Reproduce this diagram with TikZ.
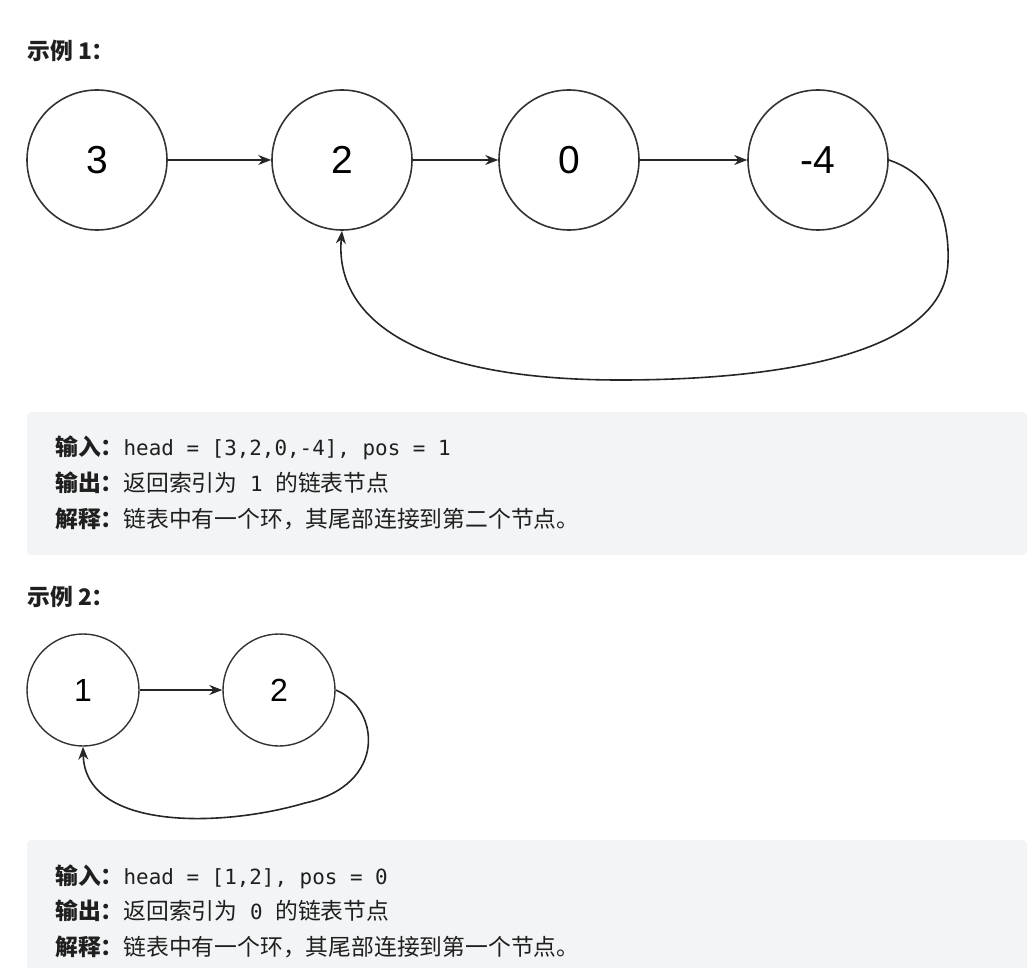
\documentclass[tikz,border=0pt]{standalone}
\usepackage{fontspec}
\usepackage{xcolor}
\setmainfont{Noto Sans CJK SC}
\newfontfamily\labelfont{Liberation Sans}
\newfontfamily\codefont{DejaVu Sans Mono}
\usetikzlibrary{positioning,calc,arrows.meta}
\definecolor{codebg}{HTML}{F3F4F5}
\definecolor{inktext}{HTML}{1F1F1F}
\newcommand{\code}[1]{{\codefont\fontsize{20.9}{24}\selectfont #1}}

\begin{document}
\begin{tikzpicture}[x=1pt,y=-1pt,
			big node/.style={draw=black!80, circle, line width=1.6pt, minimum size=140pt, inner sep=0pt,
				font=\labelfont\fontsize{39}{39}\selectfont},
			small node/.style={draw=black!80, circle, line width=1.4pt, minimum size=112pt, inner sep=0pt,
				font=\labelfont\fontsize{32}{32}\selectfont},
			link/.style={-{Stealth[length=13pt,width=10pt]}, line width=1.6pt, draw=black!85},
			code box/.style={fill=codebg, rounded corners=4pt},
			text line/.style={anchor=base west, inner sep=0pt, text=inktext, font=\fontsize{22.8}{26}\selectfont}]

			\useasboundingbox (0,0) rectangle (1036,968);

			% example 1
			\node[text line] (t1) at (27,60) {\bfseries 示例 1：};

			\node[big node] (1) at (97,160)  {3};
			\node[big node] (2) at (342,160) {2};
			\node[big node] (3) at (569,160) {0};
			\node[big node] (4) at (818,160) {-4};

			\draw[link] (1) -- (2);
			\draw[link] (2) -- (3);
			\draw[link] (3) -- (4);

			\coordinate (c1) at (948,262);
			\coordinate (c2) at (620,380);
			\draw[link] (4.east) .. controls (925,172) and (950,205) .. (c1)
				.. controls (945,360) and (760,380) .. (c2)
				.. controls (400,380) and (335,310) .. (2.south);

			\fill[code box] (27,412) rectangle (1027,555);
			\node[text line] (l1) at (55,455) {\bfseries 输入：\mdseries\code{head = [3,2,0,-4], pos = 1}};
			\node[text line] (l2) at (55,491) {\bfseries 输出：\mdseries 返回索引为\code{\ 1\ }的链表节点};
			\node[text line] (l3) at (55,527) {\bfseries 解释：\mdseries 链表中有一个环，其尾部连接到第二个节点。};

			% example 2
			\node[text line] (t2) at (27,605) {\bfseries 示例 2：};

			\node[small node] (5) at (83,690)  {1};
			\node[small node] (6) at (279,690) {2};

			\draw[link] (5) -- (6);

			\coordinate (c3) at (305,803);
			\draw[link] (6.east) .. controls (380,708) and (388,785) .. (c3)
				.. controls (220,828) and (85,830) .. (5.south);

			\fill[code box] (27,840) rectangle (1027,985);
			\node[text line] (l4) at (55,884) {\bfseries 输入：\mdseries\code{head = [1,2], pos = 0}};
			\node[text line] (l5) at (55,919) {\bfseries 输出：\mdseries 返回索引为\code{\ 0\ }的链表节点};
			\node[text line] (l6) at (55,955) {\bfseries 解释：\mdseries 链表中有一个环，其尾部连接到第一个节点。};

		\end{tikzpicture}
\end{document}
